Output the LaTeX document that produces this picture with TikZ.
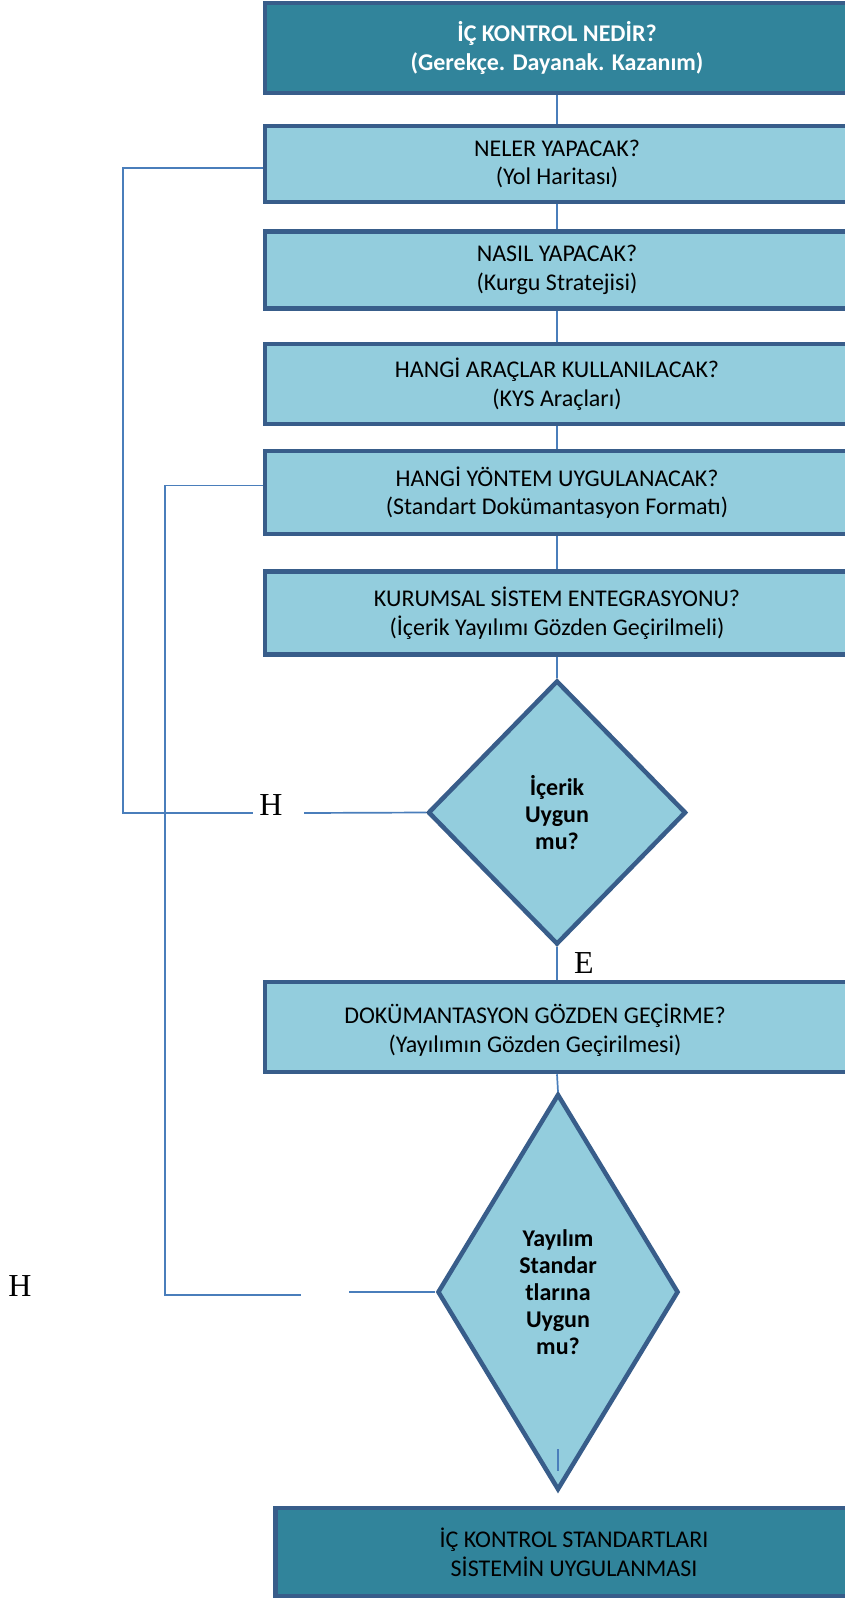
\documentclass[tikz,border=0pt]{standalone}
\usepackage{fontspec}
\setmainfont{Carlito}
\newfontfamily\serifans{Liberation Serif}
\usetikzlibrary{shapes.geometric,positioning,calc}
\definecolor{FlowTeal}{HTML}{31849B}
\definecolor{FlowLight}{HTML}{93CDDD}
\definecolor{FlowEdge}{HTML}{385D8A}
\definecolor{FlowLink}{HTML}{4A7EBB}
\tikzset{
  flowbox/.style={draw=FlowEdge,line width=4.5pt,fill=FlowLight,minimum width=584pt,
    inner sep=0pt,align=center,font=\fontsize{24}{28.6}\selectfont},
  headbox/.style={flowbox,fill=FlowTeal,text=white,font=\fontsize{24}{28.6}\selectfont\bfseries},
  endbox/.style={flowbox,fill=FlowTeal,minimum width=597pt},
  decision/.style={diamond,draw=FlowEdge,line width=4.5pt,fill=FlowLight,inner sep=0pt,
    align=center,font=\fontsize{24}{27}\selectfont\bfseries},
  boxtext/.style={inner sep=0pt,align=center,font=\fontsize{24}{28.6}\selectfont},
  link/.style={draw=FlowLink,line width=1.7pt},
  answer/.style={inner sep=0pt,font=\serifans\fontsize{32}{36}\selectfont}
}
\begin{document}
\begin{tikzpicture}[x=1pt,y=-1pt]
  \useasboundingbox (0,0) rectangle (845,1601);
  \node[headbox,minimum height=90pt] (b1) at (557,48) {İÇ KONTROL NEDİR?\\(Gerekçe. Dayanak. Kazanım)};
  \node[flowbox,minimum height=76pt] (b2) at (557,164) {NELER YAPACAK?\\(Yol Haritası)};
  \node[flowbox,minimum height=77pt] (b3) at (557,270) {NASIL YAPACAK?\\(Kurgu Stratejisi)};
  \node[flowbox,minimum height=80pt] (b4) at (557,384) {HANGİ ARAÇLAR KULLANILACAK?\\(KYS Araçları)};
  \node[flowbox,minimum height=83pt] (b5) at (557,492.5) {HANGİ YÖNTEM UYGULANACAK?\\(Standart Dokümantasyon Formatı)};
  \node[flowbox,minimum height=83pt] (b6) at (557,613) {KURUMSAL SİSTEM ENTEGRASYONU?\\(İçerik Yayılımı Gözden Geçirilmeli)};
  \node[decision,minimum width=258pt,minimum height=264pt] (d1) at (557,812.5) {İçerik\\Uygun\\mu?};
  \node[flowbox,minimum height=90pt] (b7) at (557,1027) {};
  \node[boxtext] (b7t) at ([xshift=-22pt,yshift=-3pt]b7.center) {DOKÜMANTASYON GÖZDEN GEÇİRME?\\(Yayılımın Gözden Geçirilmesi)};
  \node[decision,minimum width=241pt,minimum height=396pt] (d2) at (558,1292) {Yayılım\\Standar\\tlarına\\Uygun\\mu?};
  \node[endbox,minimum height=88pt] (b8) at (574,1552) {İÇ KONTROL STANDARTLARI\\SİSTEMİN UYGULANMASI};

  \node[answer] (hA) at (271,805) {H};
  \node[answer] (hB) at (20,1286) {H};
  \node[answer] (ans) at (584,963) {E};
  \coordinate (hA1) at (253,813);
  \coordinate (hA2) at (304,813);
  \coordinate (hB1) at (301,1295);
  \coordinate (hB2) at (349,1292);

  \draw[link] (b1.south) -- (b2.north);
  \draw[link] (b2.south) -- (b3.north);
  \draw[link] (b3.south) -- (b4.north);
  \draw[link] (b4.south) -- (b5.north);
  \draw[link] (b5.south) -- (b6.north);
  \draw[link] (b6.south) -- (d1.north);
  \draw[link] (d1.south) -- (b7.north);
  \draw[link] (b7.south) -- (d2.north);
  \draw[link] ([yshift=43pt]d2.south) -- ([yshift=21pt]d2.south);
  \draw[link] ([yshift=-4pt]b2.west) -- ++(-140,0) |- (hA1);
  \draw[link] (hA2) -- (d1.west);
  \draw[link] ([yshift=7pt]b5.west) -- ++(-98,0) |- (hB1);
  \draw[link] (hB2) -- (d2.west);
\end{tikzpicture}
\end{document}
